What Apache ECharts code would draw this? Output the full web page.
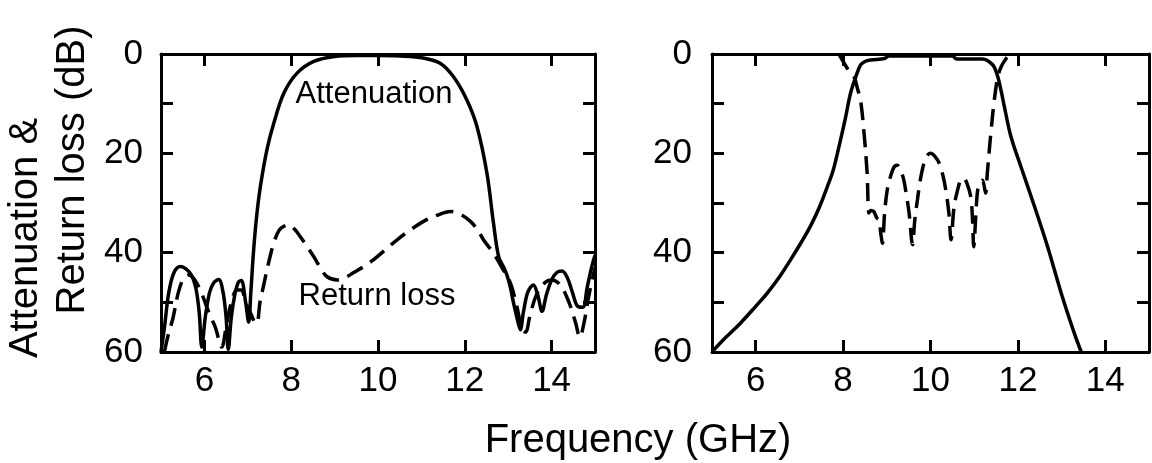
<!DOCTYPE html>
<html>
<head>
<meta charset="utf-8">
<script src="https://cdn.jsdelivr.net/npm/echarts@6/dist/echarts.min.js"></script>
<style>
html,body{margin:0;padding:0;background:#fff;}
#chart{width:1152px;height:463px;}
</style>
</head>
<body>
<div id="chart"></div>
<script>
// ---- data (frequency GHz, dB) ----
const xTickValues = [6, 8, 10, 12, 14];
const yLabelValues = [0, 20, 40, 60];

const leftAttenuation = [
  [5.0,60],[5.08,55],[5.18,48],[5.3,44],[5.45,42.8],[5.58,43.3],[5.7,44.5],[5.8,47],[5.88,52],[5.94,59],
  [6.02,53],[6.12,48],[6.22,46],[6.33,45.4],[6.43,48],[6.5,53],[6.55,59.5],[6.62,53],[6.7,48.5],[6.78,46],
  [6.85,45.6],[6.95,50],[7.02,54],[7.07,48],[7.13,40],[7.2,33],[7.29,26.7],[7.44,19.3],[7.6,13.9],[7.83,7.9],
  [8.13,3.9],[8.52,1.5],[9.0,0.5],[9.5,0.3],[10,0.3],[10.5,0.4],[11.04,0.8],[11.44,1.9],[11.74,4.6],[12.05,9.3],
  [12.28,14.6],[12.51,24],[12.66,34],[12.78,40.8],[12.9,43],[12.97,44.5],[13.05,47],[13.12,50],[13.2,53],[13.28,55.5],
  [13.35,52],[13.45,48],[13.58,46.5],[13.68,48.5],[13.78,51.8],[13.88,48.5],[14.0,45.5],[14.12,44],[14.24,43.7],
  [14.36,45],[14.48,48],[14.6,50.8],[14.72,51],[14.82,47],[14.92,43],[15.0,40.5]
];
const leftReturnLoss = [
  [5.08,60],[5.14,57.5],[5.28,53],[5.4,48],[5.52,45.2],[5.64,44.5],[5.78,45.5],[5.95,48.5],[6.1,52],[6.25,55],
  [6.4,59],[6.5,55],[6.62,50],[6.75,47.5],[6.85,47.5],[6.95,50],[7.08,52.5],[7.16,54],[7.21,54.2],[7.28,50],
  [7.36,46.8],[7.48,42],[7.6,38],[7.72,35.5],[7.83,34.7],[7.94,34.4],[8.08,35.3],[8.21,36.8],[8.37,38.8],[8.52,40.8],
  [8.67,43],[8.82,44.8],[9.06,45.5],[9.25,45],[9.44,44],[9.67,42.8],[9.9,41.4],[10.17,39.4],[10.44,37.4],[10.75,35.4],
  [11.05,33.7],[11.35,32.5],[11.67,31.7],[11.9,32.3],[12.13,33.7],[12.3,35.5],[12.43,37.4],[12.66,40.1],[12.89,43.5],
  [13.05,46.1],[13.2,50.8],[13.32,55.5],[13.4,56],[13.5,52.7],[13.65,48.5],[13.85,46],[14.0,45.5],[14.2,46.5],
  [14.4,50],[14.55,54],[14.65,57],[14.75,54],[14.85,49],[15.0,43]
];
const rightAttenuation = [
  [5.0,60],[5.3,57.2],[5.65,54.2],[6.0,50.8],[6.26,48.2],[6.55,44.8],[6.8,41.4],[7.05,37.8],[7.25,34.7],[7.45,31],
  [7.64,26.7],[7.77,23.5],[7.87,20],[7.97,16.2],[8.06,12.6],[8.17,7.9],[8.29,4.6],[8.4,2.2],[8.5,1.5],[8.63,1.2],
  [8.95,0.9],[9.05,0.4],[10.5,0.4],[10.6,1.0],[11.2,1.0],[11.35,1.6],[11.45,2.5],[11.54,4.6],[11.62,7.6],[11.69,10.6],
  [11.84,16.6],[12.07,22.7],[12.38,30.7],[12.68,38.8],[12.99,48.1],[13.29,56.2],[13.45,60]
];
const rightReturnLoss = [
  [7.9,0],[8.0,1.5],[8.12,3.2],[8.25,4.6],[8.33,7],[8.4,9.3],[8.48,16],[8.55,24],[8.59,32],[8.63,31.5],
  [8.7,31.7],[8.77,33],[8.82,33.4],[8.86,36],[8.9,38.1],[8.95,32],[9.01,27.4],[9.09,24.5],[9.17,22.7],[9.24,22.4],
  [9.31,23.3],[9.39,25.4],[9.45,28.5],[9.51,32],[9.59,38.4],[9.64,33.5],[9.7,29.4],[9.77,25.2],[9.85,22],[9.93,20.4],
  [10.0,20],[10.1,20.6],[10.2,22],[10.28,24.3],[10.35,27.4],[10.42,32],[10.47,37.4],[10.54,30.7],[10.62,27.4],
  [10.69,25.4],[10.76,25],[10.84,26.2],[10.92,28.7],[10.96,33],[10.99,38.8],[11.04,32],[11.08,27.4],[11.14,25.8],
  [11.19,25.4],[11.26,28],[11.3,24],[11.38,16],[11.46,9.3],[11.54,4.6],[11.62,2.5],[11.73,0.9],[11.8,0]
];

// ---- chart ----
const FONT = '"Liberation Sans", Arial, Helvetica, sans-serif';
const BLACK = '#000';
const grids = [
  {left: 161, top: 54, width: 434, height: 298},
  {left: 712, top: 54, width: 437, height: 298}
];

function xAxisFor(gi, pos) {
  return {
    type: 'value', gridIndex: gi, position: pos, min: 5, max: 15,
    axisLine: {show: true, onZero: false, lineStyle: {color: BLACK, width: 3}},
    axisTick: {show: true, inside: true, length: 12, customValues: xTickValues, lineStyle: {color: BLACK, width: 3}},
    axisLabel: pos === 'bottom'
      ? {show: true, customValues: xTickValues, margin: 12, color: BLACK, fontSize: 35, fontFamily: FONT}
      : {show: false},
    splitLine: {show: false}
  };
}
function yAxisFor(gi, pos) {
  return {
    type: 'value', gridIndex: gi, position: pos, min: 0, max: 60, interval: 10, inverse: true,
    axisLine: {show: true, onZero: false, lineStyle: {color: BLACK, width: 3}},
    axisTick: {show: true, inside: true, length: 12, lineStyle: {color: BLACK, width: 3}},
    axisLabel: pos === 'left'
      ? {show: true, margin: gi === 0 ? 18 : 20, color: BLACK, fontSize: 35, fontFamily: FONT,
         formatter: v => yLabelValues.indexOf(v) >= 0 ? String(v) : ''}
      : {show: false},
    splitLine: {show: false}
  };
}
function lineSeries(data, gi, dashed) {
  return {
    type: 'line', data: data, xAxisIndex: gi * 2, yAxisIndex: gi * 2,
    showSymbol: false, symbol: 'none', smooth: 0.35, animation: false,
    lineStyle: {color: BLACK, width: 3.5, type: dashed ? [18, 9] : 'solid'},
    z: 3
  };
}

const chart = echarts.init(document.getElementById('chart'), null, {renderer: 'canvas'});
chart.setOption({
  backgroundColor: '#fff',
  animation: false,
  grid: grids,
  xAxis: [xAxisFor(0, 'bottom'), xAxisFor(0, 'top'), xAxisFor(1, 'bottom'), xAxisFor(1, 'top')],
  yAxis: [yAxisFor(0, 'left'), yAxisFor(0, 'right'), yAxisFor(1, 'left'), yAxisFor(1, 'right')],
  series: [
    lineSeries(leftAttenuation, 0, false),
    lineSeries(leftReturnLoss, 0, true),
    lineSeries(rightAttenuation, 1, false),
    lineSeries(rightReturnLoss, 1, true)
  ],
  graphic: [
    {type: 'text', x: 26, y: 238, rotation: Math.PI / 2,
     style: {text: 'Attenuation &', font: '40px ' + FONT, fill: BLACK, align: 'center', verticalAlign: 'middle'}},
    {type: 'text', x: 73, y: 170, rotation: Math.PI / 2,
     style: {text: 'Return loss (dB)', font: '40px ' + FONT, fill: BLACK, align: 'center', verticalAlign: 'middle'}},
    {type: 'text', x: 638, y: 441,
     style: {text: 'Frequency (GHz)', font: '40px ' + FONT, fill: BLACK, align: 'center', verticalAlign: 'middle'}},
    {type: 'text', x: 374, y: 94,
     style: {text: 'Attenuation', font: '31px ' + FONT, fill: BLACK, align: 'center', verticalAlign: 'middle'}},
    {type: 'text', x: 377, y: 296,
     style: {text: 'Return loss', font: '31px ' + FONT, fill: BLACK, align: 'center', verticalAlign: 'middle'}}
  ]
});
</script>
</body>
</html>
